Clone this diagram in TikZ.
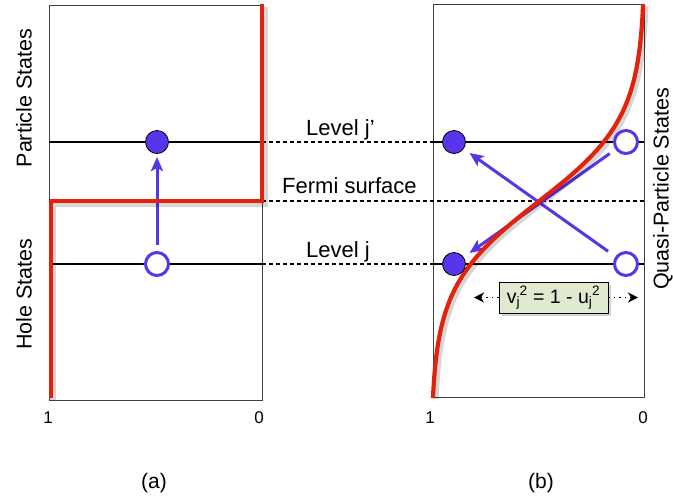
\documentclass[tikz,border=0pt]{standalone}
\usepackage{fontspec}
\setmainfont{Liberation Sans}
\usetikzlibrary{arrows.meta,shadows}
\definecolor{redl}{RGB}{226,34,10}
\definecolor{purp}{RGB}{88,52,235}
\definecolor{boxg}{RGB}{224,234,208}
\begin{document}
\begin{tikzpicture}[x=1pt,y=-1pt,
  frame/.style={draw=black!75,line width=1pt},
  level/.style={black,line width=1.8pt},
  dline/.style={black,line width=1.8pt,dash pattern=on 4pt off 3pt},
  redline/.style={redl,line width=4.2pt,line join=miter},
  shad/.style={black,opacity=0.16,line width=6pt},
  full/.style={circle,fill=purp,draw=black,line width=0.8pt,minimum size=23pt,inner sep=0pt},
  empty/.style={circle,fill=white,draw=purp,line width=3pt,minimum size=23pt,inner sep=0pt},
  parr/.style={purp,line width=3pt,-{Stealth[length=14pt,width=12pt,inset=3pt]}},
  lab/.style={font=\fontsize{22}{26}\selectfont,inner sep=0pt},
  side/.style={font=\fontsize{21.5}{25}\selectfont,inner sep=0pt,rotate=90},
  num/.style={font=\fontsize{17}{20}\selectfont,inner sep=0pt},
  captxt/.style={font=\fontsize{21}{25}\selectfont,inner sep=0pt},
  dotarr/.style={black,line width=1.4pt,dash pattern=on 1.5pt off 4pt,-{Stealth[length=10pt,width=10pt,inset=3pt]}},
]
\useasboundingbox (0,0) rectangle (673,499);

% circle centres
\coordinate (pa) at (157,142);
\coordinate (ha) at (157,264);
\coordinate (pb1) at (454,142);
\coordinate (pb2) at (454,264);
\coordinate (qb1) at (626,142);
\coordinate (qb2) at (626,264);

% frames
\draw[frame] (49,5) rectangle (262,400);
\draw[frame] (433,4) rectangle (644,397);

% level lines
\draw[level] (49,142) -- (262,142);
\draw[level] (49,264) -- (262,264);
\draw[level] (433,142) -- (644,142);
\draw[level] (433,264) -- (644,264);

% dashed lines
\draw[dline] (262,142) -- (433,142);
\draw[dline] (262,201) -- (647,201);
\draw[dline] (262,264) -- (433,264);

% arrows
\draw[parr,shorten <=19pt,shorten >=15pt] (ha) -- (pa);
\draw[parr,shorten <=22pt,shorten >=19pt] (qb2) -- (pb1);
\draw[parr,shorten <=20pt,shorten >=19pt] (qb1) -- (pb2);

% red occupation lines with shadow
\draw[shad] (53,400) -- (53,204) -- (265,204) -- (265,7);
\draw[redline] (51,398) -- (51,201) -- (262,201) -- (262,4);
\draw[shad] plot[variable=\t,domain=6:399,samples=140,smooth] ({647.5-214/(1+exp(-(\t-204)/42))},\t);
\draw[redline] plot[variable=\t,domain=4:398,samples=140,smooth] ({645-214/(1+exp(-(\t-202)/42))},\t);

% circles
\node[full] (paC) at (pa) {};
\node[empty] (haC) at (ha) {};
\node[full] (pb1C) at (pb1) {};
\node[full] (pb2C) at (pb2) {};
\node[empty] (qb1C) at (qb1) {};
\node[empty] (qb2C) at (qb2) {};

% level labels
\node[lab,anchor=base west] (lj1) at (306,135) {Level j’};
\node[lab,anchor=base west] (lfs) at (282,193) {Fermi surface};
\node[lab,anchor=base west] (lj) at (306,257) {Level j};

% side labels
\node[side] (ps) at (24,98) {Particle States};
\node[side] (hs) at (24,294) {Hole States};
\node[side,anchor=base] (qps) at (668.5,189) {Quasi-Particle States};

% axis numbers
\node[num] (a1) at (48,418) {1};
\node[num] (a0) at (259,418) {0};
\node[num] (b1) at (430,418) {1};
\node[num] (b0) at (643,418) {0};

% captions
\node[captxt] (capa) at (154,483) {(a)};
\node[captxt] (capb) at (541,483) {(b)};

% v-u relation box
\node[draw=black,line width=0.9pt,fill=boxg,minimum width=109pt,minimum height=31pt,inner sep=0pt,
      font=\fontsize{19.5}{22}\selectfont,
      drop shadow={shadow xshift=3pt,shadow yshift=-3pt,opacity=0.35}] (vu) at (553.5,297.5)
      {v\textsubscript{j}\kern-0.5pt\textsuperscript{2} = 1 - u\textsubscript{j}\kern-0.5pt\textsuperscript{2}};
\coordinate (vl) at (474,297.5);
\coordinate (vr) at (638,297.5);
\draw[dotarr] (vu.west) -- (vl);
\draw[dotarr] (vu.east) -- (vr);
\end{tikzpicture}
\end{document}
